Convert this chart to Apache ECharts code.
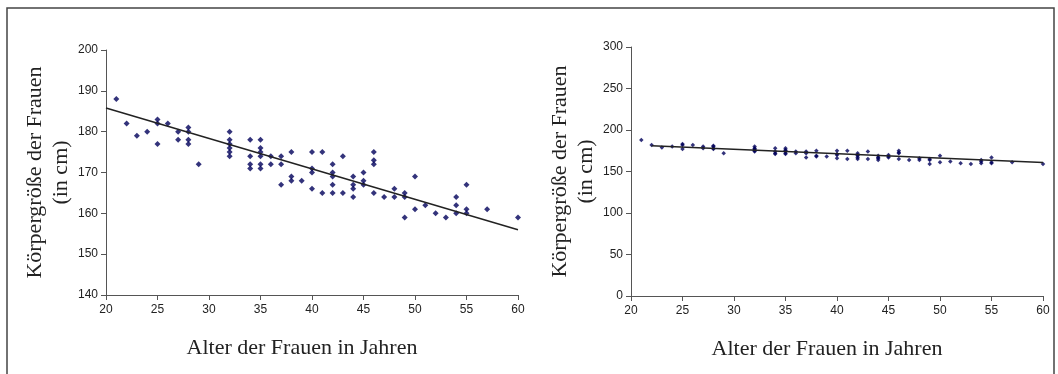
<!DOCTYPE html>
<html><head><meta charset="utf-8">
<script src="https://cdn.jsdelivr.net/npm/echarts@6/dist/echarts.min.js"></script>
<style>html,body{margin:0;padding:0;background:#fff}#c{width:1058px;height:374px}</style>
</head><body><div id="c"></div>
<script>
// Ages (x) and heights (y) of the sample
const ages = [21,22,23,24,25,25,25,26,27,27,28,28,28,28,29,
  32,32,32,32,32,32,34,34,34,34,35,35,35,35,35,35,36,36,37,37,37,
  38,38,38,39,40,40,40,40,41,41,42,42,42,42,42,43,43,44,44,44,44,
  45,45,45,46,46,46,46,47,48,48,49,49,49,50,50,51,52,53,54,54,54,
  55,55,55,57,60];
const heights = [188,182,179,180,183,182,177,182,180,178,181,180,178,177,172,
  180,178,177,176,175,174,178,174,172,171,178,176,175,174,172,171,174,172,174,172,167,
  175,169,168,168,175,171,170,166,175,165,172,170,169,167,165,174,165,169,167,166,164,
  170,168,167,175,173,172,165,164,166,164,165,164,159,169,161,162,160,159,164,162,160,
  167,161,160,161,159];
// Trend line end points as drawn in each panel
const trendLeftX = [20, 60];
const trendLeftY = [185.8, 156.0];
const trendRightX = [22, 60];
const trendRightY = [181, 160.8];
const xTicks = [20,25,30,35,40,45,50,55,60];
const yTicksLeft = [140,150,160,170,180,190,200];
const yTicksRight = [0,50,100,150,200,250,300];

const pts = ages.map((a,i)=>[a,heights[i]]);
const yTitle = 'Körpergröße der Frauen\n(in cm)';
const xTitle = 'Alter der Frauen in Jahren';
const axisCol = '#555';
const lblStyle = {color:'#222', fontFamily:'Liberation Sans', fontSize:12};
function xAx(idx){return {type:'value', gridIndex:idx, min:xTicks[0], max:xTicks[xTicks.length-1], interval:5,
  name:xTitle, nameLocation:'middle', nameGap:42,
  nameTextStyle:{fontFamily:'Liberation Serif', fontSize:22, color:'#222', padding:[0,20,0,0]},
  axisLine:{lineStyle:{color:axisCol,width:1}}, axisTick:{length:5,lineStyle:{color:axisCol}},
  axisLabel:Object.assign({margin:9},lblStyle), splitLine:{show:false}};}
function yAx(idx,ticks,gap){return {type:'value', gridIndex:idx, min:ticks[0], max:ticks[ticks.length-1], interval:ticks[1]-ticks[0],
  name:yTitle, nameLocation:'middle', nameRotate:90, nameGap:gap,
  nameTextStyle:{fontFamily:'Liberation Serif', fontSize:22, color:'#222', lineHeight:26},
  axisLine:{show:true,lineStyle:{color:axisCol,width:1}}, axisTick:{show:true,length:5,lineStyle:{color:axisCol}},
  axisLabel:Object.assign({margin:8},lblStyle), splitLine:{show:false}};}
const chart = echarts.init(document.getElementById('c'), null, {renderer:'canvas'});
chart.setOption({
  animation:false,
  backgroundColor:'#fff',
  graphic:[{type:'rect', shape:{x:7,y:8,width:1047,height:380}, style:{fill:'none',stroke:'#444',lineWidth:1.5}, z:-1}],
  grid:[{left:106,right:540,top:50,bottom:79},{left:631,right:15,top:47,bottom:78}],
  xAxis:[xAx(0),xAx(1)],
  yAxis:[yAx(0,yTicksLeft,30),yAx(1,yTicksRight,31)],
  series:[
    {type:'scatter', xAxisIndex:0, yAxisIndex:0, data:pts, symbol:'diamond', symbolSize:6, itemStyle:{color:'#00005a'}, z:3},
    {type:'line', xAxisIndex:0, yAxisIndex:0, data:trendLeftX.map((x,i)=>[x,trendLeftY[i]]), symbol:'none', lineStyle:{color:'#222',width:1.5}, z:4},
    {type:'scatter', xAxisIndex:1, yAxisIndex:1, data:pts, symbol:'diamond', symbolSize:4.5, itemStyle:{color:'#00005a'}, z:3},
    {type:'line', xAxisIndex:1, yAxisIndex:1, data:trendRightX.map((x,i)=>[x,trendRightY[i]]), symbol:'none', lineStyle:{color:'#222',width:1.5}, z:4}
  ]
});
</script></body></html>
